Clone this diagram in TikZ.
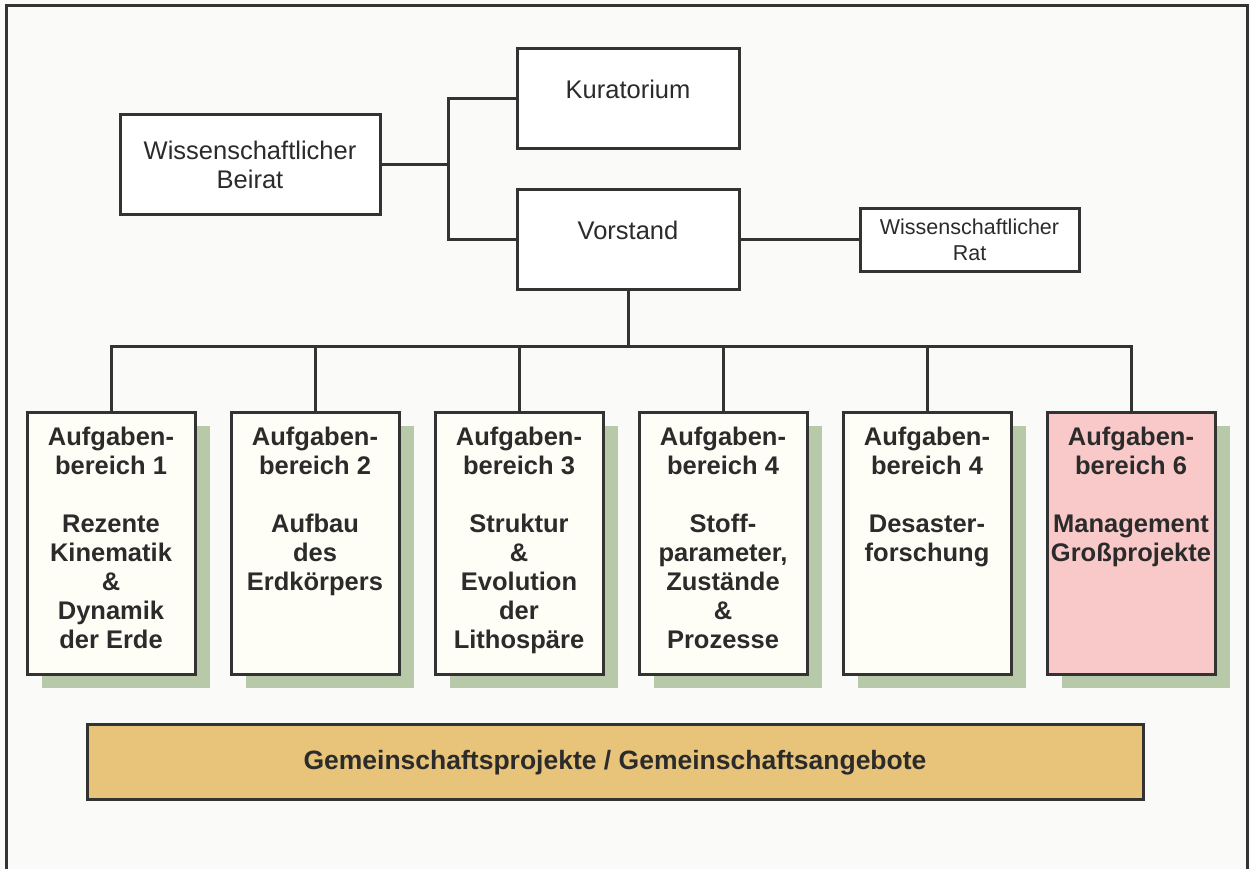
\documentclass[tikz,border=0pt]{standalone}
\usepackage{fontspec}
\setmainfont{Liberation Sans}
\usetikzlibrary{shadows}

\definecolor{linie}{HTML}{333333}
\definecolor{schrift}{HTML}{2B2B2B}
\definecolor{creme}{HTML}{FFFEF6}
\definecolor{rosa}{HTML}{F9C9C9}
\definecolor{schatten}{HTML}{B7C9A9}
\definecolor{ocker}{HTML}{E8C47A}
\definecolor{papier}{HTML}{FAFAF8}

\newcommand{\bereichtext}[1]{\parbox[c][262pt][t]{168pt}{\centering\vspace*{15pt}#1}}

\tikzset{
  gremium/.style={draw=linie, line width=3pt, fill=white, text=schrift,
    minimum width=222pt, minimum height=100pt, align=center,
    font=\fontsize{25.5}{29}\selectfont},
  bereich/.style={draw=linie, line width=3pt, fill=creme, text=schrift,
    inner sep=0pt, minimum width=168pt, minimum height=262pt, anchor=north,
    xshift=-7pt, font=\fontsize{25.5}{29}\selectfont\bfseries,
    drop shadow={shadow xshift=15pt, shadow yshift=-14pt, fill=schatten,
      draw=none, opacity=1}},
  verbindung/.style={draw=linie, line width=3pt}
}

\begin{document}
\begin{tikzpicture}[x=1pt, y=1pt, grow=down]
    \useasboundingbox[fill=papier] (0,0) rectangle (1250,869);
    \draw[linie, line width=3pt] (6,-10) -- (6,863) -- (1247,863) -- (1247,-10);

    % Leitung
    \node[gremium, minimum width=260pt] (beirat) at (250,704)
      {Wissenschaftlicher\\Beirat};
    \node[gremium, text depth=20pt] (kuratorium) at (628,770) {Kuratorium};
    \node[gremium, minimum width=219pt, minimum height=63pt,
      font=\fontsize{21.5}{26}\selectfont] (rat) at (969.5,629)
      {Wissenschaftlicher\\Rat};
    \coordinate (knoten) at (448,704);

    % Aufgabenbereiche
    \tikzstyle{level 1} = [level distance=171pt, sibling distance=204pt]
    \tikzstyle{edge from parent} = [verbindung]
    \node[gremium, text depth=20pt] (vorstand) at (628,629) {Vorstand}
      [edge from parent path={(\tikzparentnode.south) -- ++(0,-55pt) -| (\tikzchildnode.north)}]
      child {
        node[bereich] (ab1) {\bereichtext{Aufgaben-\\bereich 1\\[29pt]Rezente\\Kinematik\\\&\\Dynamik\\der Erde}}
      }
      child {
        node[bereich] (ab2) {\bereichtext{Aufgaben-\\bereich 2\\[29pt]Aufbau\\des\\Erdkörpers}}
      }
      child {
        node[bereich] (ab3) {\bereichtext{Aufgaben-\\bereich 3\\[29pt]Struktur\\\&\\Evolution\\der\\Lithospäre}}
      }
      child {
        node[bereich] (ab4) {\bereichtext{Aufgaben-\\bereich 4\\[29pt]Stoff-\\parameter,\\Zustände\\\&\\Prozesse}}
      }
      child {
        node[bereich] (ab5) {\bereichtext{Aufgaben-\\bereich 4\\[29pt]Desaster-\\forschung}}
      }
      child {
        node[bereich, fill=rosa] (ab6) {\bereichtext{Aufgaben-\\bereich 6\\[29pt]Management\\Großprojekte}}
      };

    \draw[verbindung] (beirat.east) -- (knoten);
    \draw[verbindung] (kuratorium.west) -| (knoten) |- (vorstand.west);
    \draw[verbindung] (vorstand.east) -- (rat.west);

    % Gemeinschaft
    \node[draw=linie, line width=3pt, fill=ocker, text=schrift,
      minimum width=1056pt, minimum height=75pt,
      font=\fontsize{26.5}{30}\selectfont\bfseries] (gemeinschaft) at (615,106.5)
      {Gemeinschaftsprojekte / Gemeinschaftsangebote};
\end{tikzpicture}
\end{document}
